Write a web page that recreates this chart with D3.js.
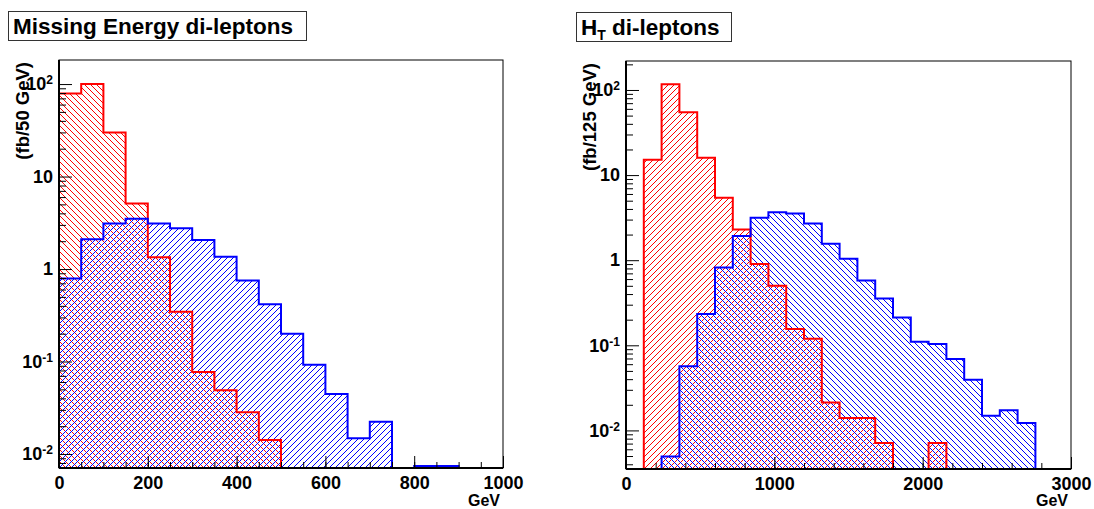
<!DOCTYPE html>
<html>
<head>
<meta charset="utf-8">
<script src="https://cdn.jsdelivr.net/npm/d3@7"></script>
<style>
  body { margin: 0; background: #fff; }
  text { font-family: "Liberation Sans", Arial, sans-serif; font-weight: bold; }
</style>
</head>
<body>
<script>
// Missing energy, 50 GeV bins (fb/bin)
var metEdges = [0, 50, 100, 150, 200, 250, 300, 350, 400, 450, 500,
                550, 600, 650, 700, 750, 800, 850, 900, 950, 1000];
var metRed  = [79, 100, 30, 5.1, 1.34, 0.346, 0.077, 0.049, 0.0283, 0.0142,
               0, 0, 0, 0, 0, 0, 0, 0, 0, 0];
var metBlue = [0.79, 2.1, 3.1, 3.5, 3.1, 2.76, 2.06, 1.36, 0.75, 0.415,
               0.2, 0.092, 0.0446, 0.0148, 0.0223, 0, 0.0074, 0.0074, 0, 0];

// H_T, 25 bins over 0-3000 GeV
var htEdges = [0, 120, 240, 360, 480, 600, 720, 840, 960, 1080, 1200, 1320, 1440,
               1560, 1680, 1800, 1920, 2040, 2160, 2280, 2400, 2520, 2640, 2760, 2880, 3000];
var htRed  = [0, 15.1, 117, 54.7, 16, 5.4, 2.3, 0.9, 0.5, 0.155,
              0.119, 0.0213, 0.014, 0.014, 0.0071, 0, 0, 0.0071, 0, 0,
              0, 0, 0, 0, 0];
var htBlue = [0, 0, 0.00495, 0.0568, 0.233, 0.82, 1.93, 3.16, 3.67, 3.53,
              2.70, 1.56, 1.04, 0.578, 0.355, 0.212, 0.110, 0.1035, 0.069, 0.0394,
              0.0149, 0.0172, 0.01225, 0, 0];

// axis ticks
var logTicks = [0.01, 0.1, 1, 10, 100];
var logLabels = [["10", "-2"], ["10", "-1"], ["1", ""], ["10", ""], ["10", "2"]];
var metTicks = [0, 200, 400, 600, 800, 1000];
var htTicks = [0, 1000, 2000, 3000];

var svg = d3.select("body").append("svg")
  .attr("width", 1094)
  .attr("height", 509);

function stepPath(edges, vals, x, y, yBottom) {
  var p = d3.path();
  p.moveTo(x(edges[0]), yBottom);
  vals.forEach(function(v, i) {
    var yy = v > 0 ? Math.min(y(v), yBottom) : yBottom;
    p.lineTo(x(edges[i]), yy);
    p.lineTo(x(edges[i + 1]), yy);
  });
  p.lineTo(x(edges[edges.length - 1]), yBottom);
  return p.toString();
}

// diagonal hatch lines over the panel box; back = "\", otherwise "/"
function hatchPath(cfg, back) {
  var step = 6, d = "";
  if (back) {
    var c0 = cfg.y0 - cfg.x1;
    if (c0 % 2 !== 0) c0 -= 1;
    for (var c = c0; c <= cfg.y1 - cfg.x0; c += step) {
      d += "M" + cfg.x0 + "," + (cfg.x0 + c) + "L" + cfg.x1 + "," + (cfg.x1 + c);
    }
  } else {
    var k0 = cfg.x0 + cfg.y0;
    if (k0 % 2 === 0) k0 -= 1;
    for (var k = k0; k <= cfg.x1 + cfg.y1; k += step) {
      d += "M" + cfg.x0 + "," + (k - cfg.x0) + "L" + cfg.x1 + "," + (k - cfg.x1);
    }
  }
  return d;
}

function drawPanel(cfg) {
  var x = d3.scaleLinear().domain(cfg.xDomain).range([cfg.x0, cfg.x1]);
  var y = d3.scaleLog().domain(cfg.yDomain).range([cfg.y1, cfg.y0]);

  var g = svg.append("g");
  var defs = g.append("defs");

  defs.append("clipPath").attr("id", cfg.id + "clip")
    .append("rect")
      .attr("x", cfg.x0).attr("y", cfg.y0)
      .attr("width", cfg.x1 - cfg.x0).attr("height", cfg.y1 - cfg.y0);

  var plot = g.append("g").attr("clip-path", "url(#" + cfg.id + "clip)");

  cfg.hists.forEach(function(h, i) {
    defs.append("clipPath").attr("id", cfg.id + "area" + i)
      .append("path")
        .attr("d", stepPath(cfg.edges, h.values, x, y, cfg.y1) + "Z");
    plot.append("path")
      .attr("clip-path", "url(#" + cfg.id + "area" + i + ")")
      .attr("d", hatchPath(cfg, h.back))
      .attr("fill", "none")
      .attr("stroke", h.color)
      .attr("stroke-width", 1);
  });
  cfg.hists.forEach(function(h) {
    plot.append("path")
      .attr("d", stepPath(cfg.edges, h.values, x, y, cfg.y1))
      .attr("fill", "none")
      .attr("stroke", h.color)
      .attr("stroke-width", 2);
  });

  // frame
  g.append("rect")
    .attr("x", cfg.x0).attr("y", cfg.y0)
    .attr("width", cfg.x1 - cfg.x0).attr("height", cfg.y1 - cfg.y0)
    .attr("fill", "none")
    .attr("stroke", "#000")
    .attr("stroke-width", 1);

  // y minor ticks
  var minors = [];
  for (var e = -3; e <= 2; e++) {
    for (var m = 2; m <= 9; m++) {
      var v = m * Math.pow(10, e);
      if (v > cfg.yDomain[0] && v < cfg.yDomain[1]) minors.push(v);
    }
  }
  g.append("g")
    .attr("transform", "translate(" + cfg.x0 + ",0)")
    .call(d3.axisLeft(y).tickValues(minors).tickSize(-7).tickFormat(""))
    .call(function(a) { a.select(".domain").remove(); });

  var yAxis = g.append("g")
    .attr("transform", "translate(" + cfg.x0 + ",0)")
    .call(d3.axisLeft(y).tickValues(logTicks).tickSize(-13).tickPadding(6).tickFormat(""));
  yAxis.select(".domain").attr("stroke-width", 2).attr("d", "M0," + cfg.y0 + "V" + cfg.y1);
  yAxis.selectAll(".tick text")
    .attr("font-size", 18)
    .attr("fill", "#000")
    .each(function(d, i) {
      var t = d3.select(this);
      t.append("tspan").text(logLabels[i][0]);
      if (logLabels[i][1]) {
        t.append("tspan").attr("dy", "-0.5em").attr("font-size", 12).text(logLabels[i][1]);
      }
    });

  // x ticks
  g.append("g")
    .attr("transform", "translate(0," + cfg.y1 + ")")
    .call(d3.axisBottom(x).tickValues(d3.range(cfg.xDomain[0], cfg.xDomain[1] + 1, cfg.xMinor))
      .tickSize(-6).tickFormat(""))
    .call(function(a) { a.select(".domain").remove(); });

  var xAxis = g.append("g")
    .attr("transform", "translate(0," + cfg.y1 + ")")
    .call(d3.axisBottom(x).tickValues(cfg.xTicks).tickSize(-12).tickPadding(8)
      .tickFormat(d3.format("d")));
  xAxis.select(".domain").attr("stroke-width", 2).attr("d", "M" + cfg.x0 + ",0H" + cfg.x1);
  xAxis.selectAll(".tick text").attr("font-size", 18).attr("fill", "#000");

  g.append("text")
    .attr("x", cfg.x1 - 3).attr("y", 506)
    .attr("text-anchor", "end")
    .attr("font-size", 16)
    .text("GeV");

  g.append("text")
    .attr("transform", "translate(" + cfg.yTitleX + "," + (cfg.y0 + 2) + ") rotate(-90)")
    .attr("text-anchor", "end")
    .attr("font-size", 18.5)
    .text(cfg.yTitle);

  // title box
  g.append("rect")
    .attr("x", cfg.box[0] + 0.5).attr("y", cfg.box[1] + 0.5)
    .attr("width", cfg.box[2]).attr("height", cfg.box[3])
    .attr("fill", "#fff")
    .attr("stroke", "#333")
    .attr("stroke-width", 1);
  var title = g.append("text")
    .attr("x", cfg.box[0] + 5).attr("y", cfg.box[1] + 23)
    .attr("font-size", 22.5);
  cfg.title(title);
}

drawPanel({
  id: "met",
  x0: 59, x1: 503, y0: 60, y1: 468,
  xDomain: [0, 1000], yDomain: [0.00706, 182],
  edges: metEdges,
  xTicks: metTicks, xMinor: 50,
  hists: [
    {values: metRed, color: "#ff0000", back: true},
    {values: metBlue, color: "#0000ff", back: false}
  ],
  yTitle: "(fb/50 GeV)", yTitleX: 29,
  box: [8, 11, 298, 29],
  title: function(t) { t.text("Missing Energy di-leptons"); }
});

drawPanel({
  id: "ht",
  x0: 626, x1: 1071, y0: 61, y1: 469,
  xDomain: [0, 3000], yDomain: [0.00352, 219],
  edges: htEdges,
  xTicks: htTicks, xMinor: 200,
  hists: [
    {values: htRed, color: "#ff0000", back: false},
    {values: htBlue, color: "#0000ff", back: true}
  ],
  yTitle: "(fb/125 GeV)", yTitleX: 596,
  box: [576, 12, 155, 29],
  title: function(t) {
    t.append("tspan").text("H");
    t.append("tspan").attr("font-size", 14).attr("dy", 5).text("T");
    t.append("tspan").attr("dy", -5).text(" di-leptons");
  }
});
</script>
</body>
</html>
